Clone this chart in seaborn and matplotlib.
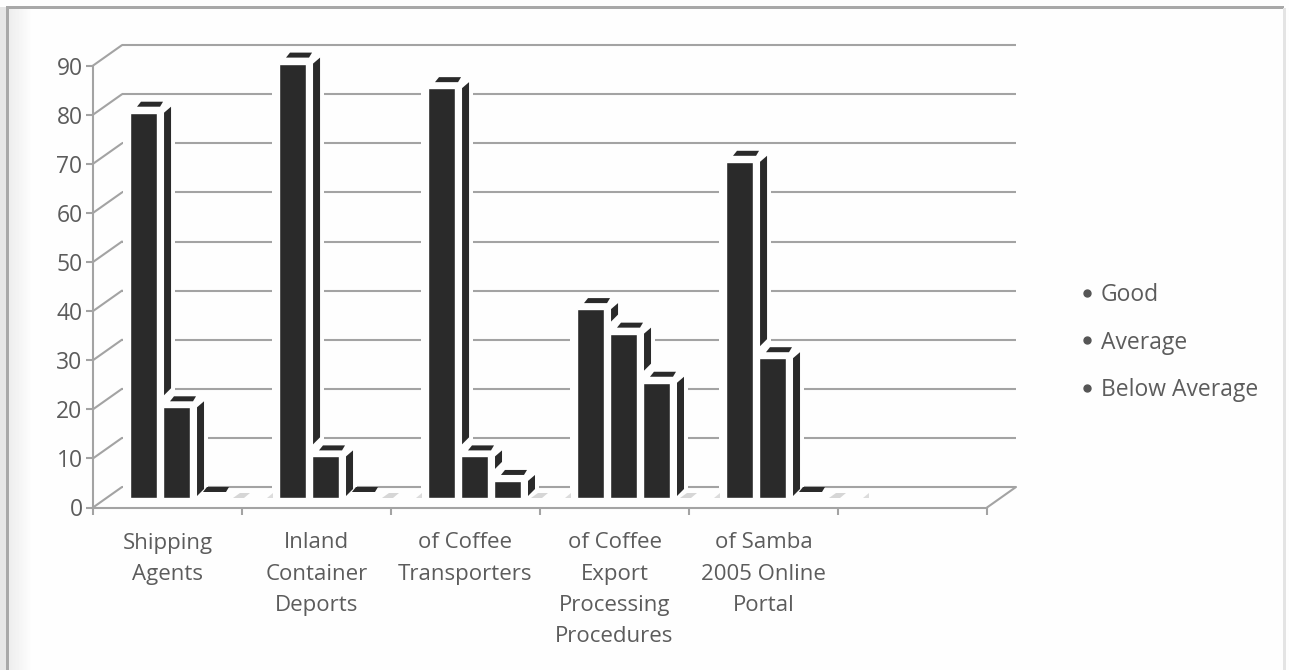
import matplotlib
matplotlib.use("Agg")
import matplotlib.pyplot as plt
import numpy as np
import pandas as pd
import seaborn as sns
from matplotlib.lines import Line2D
from matplotlib.patches import Polygon, Rectangle

categories = ["Shipping\nAgents", "Inland\nContainer\nDeports", "of Coffee\nTransporters",
              "of Coffee\nExport\nProcessing\nProcedures", "of Samba\n2005 Online\nPortal", ""]
rated = categories[:5]
good = [80, 90, 85, 40, 70]
average = [20, 10, 10, 35, 30]
below_average = [0, 0, 5, 25, 0]
series_names = ["Good", "Average", "Below Average"]
y_ticks = list(range(0, 100, 10))

BAR = "#2a2a2a"
LINE = "#a3a3a3"
TEXT = "#5c5c5c"
PAPER = "#fefefe"
FONT = "Open Sans"

W, H = 1289, 670
sns.set_theme(style="white")
plt.rcParams["font.family"] = [FONT, "DejaVu Sans"]

fig = plt.figure(figsize=(W / 100, H / 100), dpi=100, facecolor=PAPER)

# Axes box runs from the front-left floor corner to the top of the back wall.
X0, X1, Y_BOTTOM, Y_TOP = 93, 1016, 507.5, 45
ax = fig.add_axes([X0 / W, 1 - Y_BOTTOM / H, (X1 - X0) / W, (Y_BOTTOM - Y_TOP) / H])
ax.patch.set_alpha(0)

frame = pd.DataFrame({
    "category": rated * 3,
    "rating": np.repeat(series_names, len(rated)),
    "value": good + average + below_average,
})
sns.barplot(data=frame, x="category", y="value", hue="rating", order=categories,
            hue_order=series_names, palette=[BAR] * 3, width=0.664, gap=0.18,
            saturation=1, errorbar=None, legend=False, ax=ax, zorder=5)

PX_X = 149.0          # pixels per category
PX_Y = 4.91           # pixels per value unit
FIRST_CENTRE = 176.5  # pixel position of the first bar group
DEPTH_X, DEPTH_Y = 29, 20.5

ax.set_xlim((X0 - FIRST_CENTRE) / PX_X, (X1 - FIRST_CENTRE) / PX_X)
ax.set_ylim(0, (Y_BOTTOM - Y_TOP) / PX_Y)


def dx(px):
    return px / PX_X


def dy(px):
    return px / PX_Y


# Back wall grid, side-wall diagonals and the floor outline.
wall_left = ax.get_xlim()[0] + dx(DEPTH_X)
for v in y_ticks:
    ax.plot([wall_left, ax.get_xlim()[1]], [v + dy(DEPTH_Y)] * 2, color=LINE, lw=1.5, zorder=1,
            clip_on=False, solid_capstyle="butt")
    ax.plot([ax.get_xlim()[0], wall_left], [v, v + dy(DEPTH_Y)], color=LINE, lw=1.5, zorder=1,
            clip_on=False)
last_tick = ax.get_xlim()[0] + 6
ax.plot([last_tick, last_tick + dx(DEPTH_X)], [0, dy(DEPTH_Y)], color=LINE, lw=1.5, zorder=1, clip_on=False)

# Bar bases sit on the floor, a little behind its front edge; the front face
# rises a touch above its value because of the perspective.
base = dy(9.5)
lift = dy(2)
for group, container in enumerate(ax.containers):
    z_mask = 5 + 3 * group
    z_bar = z_mask + 1
    for bar in container:
        value = bar.get_height()
        left, right = bar.get_x(), bar.get_x() + bar.get_width()
        level = value + lift if value > 0 else base
        bar.set_y(base)
        bar.set_height(level - base)
        bar.set_zorder(z_bar)
        if value > 0:
            # white halo that interrupts the grid around each bar
            ax.add_patch(Rectangle((left - dx(7), base), right - left + dx(25), level - base + dy(2),
                                   fc=PAPER, ec="none", zorder=2))
            if group > 0:
                # white notch that cuts off the side of the bar standing behind
                ax.add_patch(Polygon([(left - dx(1), base), (left - dx(1), level + dy(10)),
                                      (left + dx(9), level + dy(20)), (left + dx(9), base)],
                                     fc=PAPER, ec="none", zorder=z_mask))
        # bar top
        ax.add_patch(Polygon([(left + dx(7), level + dy(6)), (right + dx(3), level + dy(6)),
                              (right + dx(6), level + dy(11)), (left + dx(11), level + dy(11))],
                             fc=BAR, ec="none", zorder=z_bar))
        # bar side
        if value > 0:
            ax.add_patch(Polygon([(right + dx(7), level), (right + dx(14), level + dy(6)),
                                  (right + dx(14), base + dy(9)), (right + dx(7), base + dy(2))],
                                 fc=BAR, ec="none", zorder=z_bar))
    if group == 2:
        # faint floor shadows on either side of each group
        for bar in container:
            right = bar.get_x() + bar.get_width()
            ax.add_patch(Polygon([(right + dx(10), base), (right + dx(21), base),
                                  (right + dx(27), base + dy(5)), (right + dx(17), base + dy(5))],
                                 fc="#d6d6d6", ec="none", zorder=3))
            ax.add_patch(Polygon([(right + dx(44), base), (right + dx(50), base),
                                  (right + dx(50), base + dy(5))],
                                 fc="#dcdcdc", ec="none", zorder=3))

# Axes lines and ticks.
sns.despine(ax=ax, top=True, right=True)
for name in ("left", "bottom"):
    ax.spines[name].set_color(LINE)
    ax.spines[name].set_linewidth(1.5)
ax.spines["left"].set_bounds(0, 90)
ax.spines["bottom"].set_bounds(ax.get_xlim()[0], ax.get_xlim()[0] + 6)

ax.set_yticks(y_ticks)
ax.tick_params(axis="y", length=5, width=1.5, color=LINE, labelcolor=TEXT, labelsize=16.5, pad=2.5, left=True)

boundaries = [ax.get_xlim()[0] + k for k in range(7)]
centres = [b + 0.5 for b in boundaries[:6]]
ax.set_xticks(boundaries)
ax.set_xticklabels([""] * 7)
ax.set_xticks(centres, minor=True)
ax.set_xticklabels(categories, minor=True, fontsize=16, color=TEXT, linespacing=1.64, va="top")
ax.tick_params(axis="x", which="major", length=5, width=1.5, color=LINE, bottom=True)
ax.tick_params(axis="x", which="minor", length=0, pad=18, bottom=False)
ax.set_xlabel("")
ax.set_ylabel("")
ax.grid(False)

# Legend with small round keys.
handles = [Line2D([], [], ls="none", marker="o", ms=5, color="#555555", label=n) for n in series_names]
fig.legend(handles=handles, loc="center left", bbox_to_anchor=(1080 / W, 1 - 342.5 / H), frameon=False,
           fontsize=16.5, labelcolor=TEXT, handlelength=0.6, handletextpad=0.3, labelspacing=1.03,
           borderpad=0, borderaxespad=0)

# Page edge around the chart.
page = fig.add_axes([0, 0, 1, 1], zorder=-1)
page.set_axis_off()
page.add_patch(Rectangle((0, 7), 6, H, fc="#e6e6e6", ec="none"))
page.add_patch(Rectangle((6, 5.5), 3, H, fc="#a8a8a8", ec="none"))
page.add_patch(Rectangle((6, 5.5), 1278, 3, fc="#a8a8a8", ec="none"))
page.add_patch(Rectangle((1283, 8), 2.5, H, fc="#e4e4e4", ec="none"))
page.imshow(np.linspace(0.93, 0.996, 24)[None, :], cmap="gray", vmin=0, vmax=1, aspect="auto",
            extent=(9, 33, H, 8))
page.set_xlim(0, W)
page.set_ylim(H, 0)

fig.savefig("out.png", dpi=100, facecolor=fig.get_facecolor())
